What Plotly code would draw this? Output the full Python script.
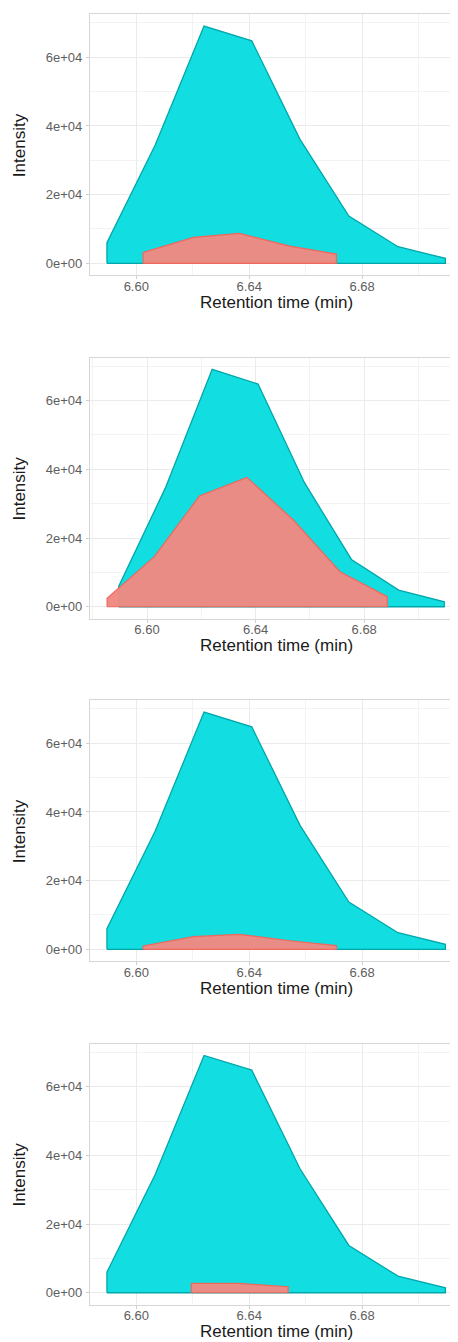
import plotly.graph_objects as go

# ---- data ----
cyan_time = [6.5896, 6.6067, 6.6240, 6.6409, 6.6580, 6.6753, 6.6927, 6.7095]
cyan_int = [6000, 34440, 69080, 64800, 36100, 13770, 4830, 1450]

red_time_1 = [6.6024, 6.6203, 6.6365, 6.6544, 6.6709]
red_int_1 = [3200, 7570, 8730, 5000, 2700]

red_time_2 = [6.5853, 6.6027, 6.6193, 6.6368, 6.6539, 6.6711, 6.6885]
red_int_2 = [2430, 14560, 32220, 37650, 25230, 10190, 2910]

red_time_3 = [6.6024, 6.6203, 6.6365, 6.6544, 6.6709]
red_int_3 = [970, 3690, 4370, 2500, 1070]

red_time_4 = [6.6195, 6.6365, 6.6538]
red_int_4 = [2720, 2720, 1750]

x_tickvals = [6.60, 6.64, 6.68]
x_ticktext = ["6.60", "6.64", "6.68"]
x_minor = [6.58, 6.62, 6.66, 6.70]
y_tickvals = [0, 20000, 40000, 60000]
y_ticktext = ["0e+00", "2e+04", "4e+04", "6e+04"]
y_minor = [10000, 30000, 50000, 70000]

x_label = "Retention time (min)"
y_label = "Intensity"

red_sets = [(red_time_1, red_int_1), (red_time_2, red_int_2),
            (red_time_3, red_int_3), (red_time_4, red_int_4)]

# ---- layout geometry (page pixels; the page body adds an 8px offset) ----
OFF = 8
W, H = 458, 1342
L = 89.6 - OFF
panels_px = [(14.2, 275.2), (357.5, 618.6), (700.2, 961.2), (1043.6, 1304.6)]
x_ranges = [[6.5836, 6.7168], [6.5790, 6.7175], [6.5836, 6.7168], [6.5836, 6.7168]]
y_range = [-3454, 72534]

CYAN_FILL = "rgba(8,220,223,0.96)"
CYAN_LINE = "#00A7AA"
RED_FILL = "rgba(239,137,130,0.97)"
RED_LINE = "#F0675C"
FONT = "Liberation Sans, Arial, sans-serif"

def polygon(t, v):
    xs = [t[0]] + list(t) + [t[-1], t[0]]
    ys = [0] + list(v) + [0, 0]
    return xs, ys

fig = go.Figure()
annotations = []
for i, (top_p, bot_p) in enumerate(panels_px):
    top, bot = top_p - OFF, bot_p - OFF
    n = "" if i == 0 else str(i + 1)
    xa, ya = "x" + n, "y" + n
    cx, cy = polygon(cyan_time, cyan_int)
    fig.add_trace(go.Scatter(x=cx, y=cy, xaxis=xa, yaxis=ya, mode="lines",
                             fill="toself", fillcolor=CYAN_FILL,
                             line=dict(color=CYAN_LINE, width=1.3),
                             hoverinfo="skip", showlegend=False))
    rt, rv = red_sets[i]
    rx, ry = polygon(rt, rv)
    fig.add_trace(go.Scatter(x=rx, y=ry, xaxis=xa, yaxis=ya, mode="lines",
                             fill="toself", fillcolor=RED_FILL,
                             line=dict(color=RED_LINE, width=1.2),
                             hoverinfo="skip", showlegend=False))
    dom = [(H - bot) / H, (H - top) / H]
    axis_common = dict(showline=True, linecolor="#D6D6D6", linewidth=1.3,
                       ticks="outside", ticklen=3, tickcolor="#CFCFCF", tickwidth=1,
                       gridcolor="#EBEBEB", gridwidth=1.2, zeroline=False,
                       automargin=False,
                       tickfont=dict(family=FONT, size=13, color="#5E5E5E"))
    fig.layout["xaxis" + n] = dict(
        domain=[0, 1], anchor=ya, range=x_ranges[i], mirror=True,
        tickmode="array", tickvals=x_tickvals, ticktext=x_ticktext,
        ticklabelstandoff=-4,
        minor=dict(tickmode="array", tickvals=x_minor, showgrid=True,
                   gridcolor="#F3F3F3", gridwidth=1, ticks=""),
        **axis_common)
    fig.layout["yaxis" + n] = dict(
        domain=dom, anchor=xa, range=y_range,
        tickmode="array", tickvals=y_tickvals, ticktext=y_ticktext,
        ticklabelstandoff=1,
        minor=dict(tickmode="array", tickvals=y_minor, showgrid=True,
                   gridcolor="#F3F3F3", gridwidth=1, ticks=""),
        **axis_common)
    annotations.append(dict(text=x_label, xref="paper", yref="paper",
                            x=(276.5 - OFF - L) / (W - L), y=(H - (bot + 27)) / H,
                            xanchor="center", yanchor="middle", showarrow=False,
                            font=dict(family=FONT, size=17, color="#1A1A1A")))
    annotations.append(dict(text=y_label, xref="paper", yref="paper",
                            x=(19 - OFF - L) / (W - L), y=(H - (top + bot) / 2) / H,
                            xanchor="center", yanchor="middle", textangle=-90,
                            showarrow=False,
                            font=dict(family=FONT, size=17, color="#1A1A1A")))

fig.update_layout(width=W, height=H, margin=dict(l=L, r=0, t=0, b=0),
                  template="none", paper_bgcolor="white", plot_bgcolor="white",
                  annotations=annotations, showlegend=False)
fig.write_html("out.html")
